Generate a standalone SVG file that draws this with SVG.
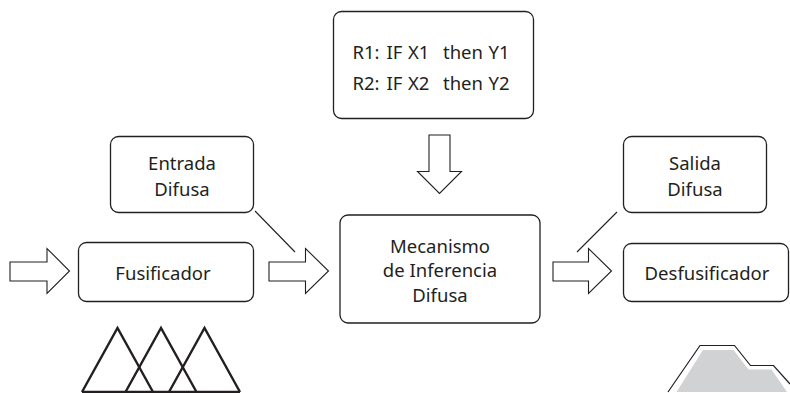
<svg xmlns="http://www.w3.org/2000/svg" width="790" height="393" viewBox="0 0 790 393">
<style>
.box{fill:#fff;stroke:#231f20;stroke-width:1.3}
.arr{fill:#fff;stroke:#231f20;stroke-width:1.1;stroke-linejoin:miter}
.lbl{font-family:"Noto Sans","Open Sans",sans-serif;font-size:18.5px;fill:#231f20;text-anchor:middle}
.rule{font-family:"Noto Sans","Open Sans",sans-serif;font-size:18.5px;fill:#231f20}
.ln{stroke:#231f20;stroke-width:1.1;fill:none}
</style>
<rect width="790" height="393" fill="#fff"/>
<g id="rules">
<rect class="box" x="333.5" y="11.5" width="200" height="107" rx="8"/>
<text class="rule" y="58.5"><tspan x="352.5">R1:</tspan><tspan x="386.5">IF</tspan><tspan x="408">X1</tspan><tspan x="443">then</tspan><tspan x="488.5">Y1</tspan></text>
<text class="rule" y="90"><tspan x="352.5">R2:</tspan><tspan x="386.5">IF</tspan><tspan x="408">X2</tspan><tspan x="443">then</tspan><tspan x="488.5">Y2</tspan></text>
</g>
<g id="entrada">
<rect class="box" x="110.5" y="136.5" width="143" height="76" rx="8"/>
<text class="lbl" x="182" y="170">Entrada</text>
<text class="lbl" x="182" y="196">Difusa</text>
</g>
<g id="salida">
<rect class="box" x="623.5" y="136.5" width="143" height="76" rx="8"/>
<text class="lbl" x="695" y="170">Salida</text>
<text class="lbl" x="695" y="196">Difusa</text>
</g>
<g id="fusificador">
<rect class="box" x="78.5" y="242.5" width="175" height="59" rx="8"/>
<text class="lbl" x="163" y="280">Fusificador</text>
</g>
<g id="mecanismo">
<rect class="box" x="340" y="215" width="200" height="108" rx="8"/>
<text class="lbl" x="440" y="253">Mecanismo</text>
<text class="lbl" x="440" y="277">de Inferencia</text>
<text class="lbl" x="440" y="301.5">Difusa</text>
</g>
<g id="desfusificador">
<rect class="box" x="623.5" y="243.5" width="165" height="58" rx="8"/>
<text class="lbl" x="707" y="280">Desfusificador</text>
</g>
<g id="connectors">
<polygon class="arr" points="10,262 47,262 47,248.5 69.5,271 47,293.5 47,281 10,281"/>
<polygon class="arr" points="269,262 305.5,262 305.5,248.5 328.5,271 305.5,293.5 305.5,281 269,281"/>
<polygon class="arr" points="553,262 588.5,262 588.5,248.5 611.5,271 588.5,293.5 588.5,281 553,281"/>
<polygon class="arr" points="429,135 450,135 450,171.5 461.5,171.5 439.5,193.5 417.5,171.5 429,171.5"/>
<line class="ln" x1="255" y1="211" x2="295" y2="252"/>
<line class="ln" x1="617" y1="212" x2="577" y2="252"/>
</g>
<g id="input-sets" fill="none" stroke="#231f20" stroke-width="2.4" stroke-linejoin="miter">
<polyline points="82,392 117.5,328 153,392"/>
<polyline points="125.5,392 161,328 196.5,392"/>
<polyline points="169,392 204.5,328 240,392"/>
<line x1="82" y1="392" x2="240" y2="392"/>
</g>
<g id="output-set">
<polygon points="676.5,392 703,350 733.5,350 748.5,369.5 771.5,369.5 787,392" fill="#d1d2d3"/>
<polyline points="668,392 700,345.5 734.5,345.5 750.5,365.5 773.5,365.5 790,384" fill="none" stroke="#231f20" stroke-width="1.2"/>
</g>
</svg>
